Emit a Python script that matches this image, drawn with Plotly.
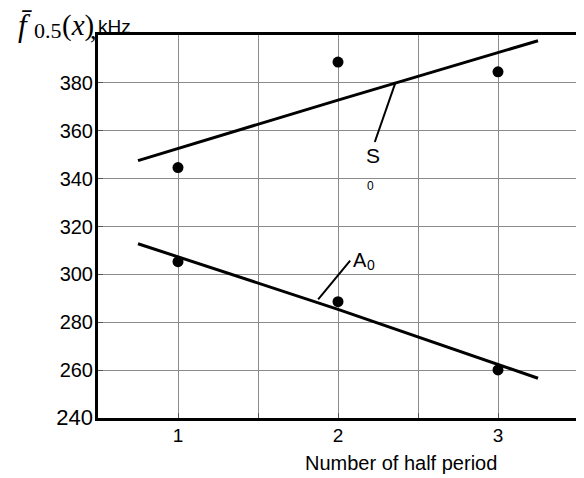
import plotly.graph_objects as go

# ---- data ----
half_period = [1, 2, 3]
s0_points = [344.6, 388.7, 384.6]
a0_points = [305.3, 288.6, 260.1]

fit_x = [0.75, 2, 3.25]
s0_fit = [347.5, 372.8, 397.6]
a0_fit = [312.8, 285.4, 256.6]

s0_leader_x = [2.36, 2.23]
s0_leader_y = [380.3, 355.3]
a0_leader_x = [1.876, 2.076]
a0_leader_y = [289.6, 305.7]

x_tickvals = [1, 1.5, 2, 2.5, 3]
x_ticktext = ["1", " ", "2", " ", "3"]
y_tickvals = [240, 260, 280, 300, 320, 340, 360, 380]
y_ticktext = ['<span style="font-size:22px">240</span>', "260", "280", "300", "320", "340", "360", "380"]

# the page body has an 8px margin; size the figure to fit inside it
OFF = 8
W, H = 584 - OFF, 478 - OFF
L, R, T, B = 97.5 - OFF, 3, 35 - OFF, 60
PW, PH = W - L - R, H - T - B

def px_x(p):
    return (p - OFF - L) / PW

def px_y(p):
    return (H - B - (p - OFF)) / PH

fig = go.Figure()
line_style = dict(color="black", width=3)
fig.add_trace(go.Scatter(x=fit_x, y=s0_fit, mode="lines", line=line_style, showlegend=False))
fig.add_trace(go.Scatter(x=fit_x, y=a0_fit, mode="lines", line=line_style, showlegend=False))
fig.add_trace(go.Scatter(x=half_period, y=s0_points, mode="markers",
                         marker=dict(color="black", size=11), showlegend=False))
fig.add_trace(go.Scatter(x=half_period, y=a0_points, mode="markers",
                         marker=dict(color="black", size=11), showlegend=False))
fig.add_trace(go.Scatter(x=s0_leader_x, y=s0_leader_y, mode="lines",
                         line=dict(color="black", width=2), showlegend=False))
fig.add_trace(go.Scatter(x=a0_leader_x, y=a0_leader_y, mode="lines",
                         line=dict(color="black", width=2), showlegend=False))

sans = "Liberation Sans, Arial"
serif = "Liberation Serif, Times New Roman"

def pa(px, py, text, size, family=sans, xanchor="center"):
    return dict(x=px_x(px), y=px_y(py), xref="paper", yref="paper", text=text,
                xanchor=xanchor, yanchor="middle", showarrow=False,
                font=dict(size=size, family=family, color="black"))

annotations = [
    pa(375, 155, "S", 21),
    pa(371.7, 186, "0", 12),
    pa(361.7, 260, "A", 20),
    pa(372, 265, "0", 14),
    pa(403, 463, "Number of half period", 20),
    # y-axis title pieces
    pa(15, 25, "<i>f\u0304</i>", 31, serif, "left"),
    pa(31, 30, "0.5", 22, serif, "left"),
    pa(59, 25, "(<i>x</i>)", 29, serif, "left"),
    pa(87, 31, ",", 26, serif, "left"),
    pa(95, 26, "kHz", 19, sans, "left"),
]

fig.update_layout(
    width=W, height=H,
    margin=dict(l=L, r=R, t=T, b=B, pad=0),
    paper_bgcolor="white", plot_bgcolor="white",
    annotations=annotations,
    font=dict(family=sans, color="black"),
)
fig.update_xaxes(range=[0.5, 3.5], tickvals=x_tickvals, ticktext=x_ticktext,
                 showgrid=True, gridcolor="#8c8c8c", gridwidth=1,
                 showline=True, linecolor="black", linewidth=3, mirror=True,
                 ticks="inside", ticklen=5, tickcolor="#555", tickwidth=1,
                 tickfont=dict(size=19), zeroline=False, ticklabelstandoff=-2)
fig.update_yaxes(range=[240, 400], tickvals=y_tickvals, ticktext=y_ticktext,
                 showgrid=True, gridcolor="#8c8c8c", gridwidth=1,
                 showline=True, linecolor="black", linewidth=3, mirror=True,
                 ticks="inside", ticklen=5, tickcolor="#555", tickwidth=1,
                 tickfont=dict(size=20), zeroline=False, ticklabelstandoff=-2)

fig.write_html("out.html")
